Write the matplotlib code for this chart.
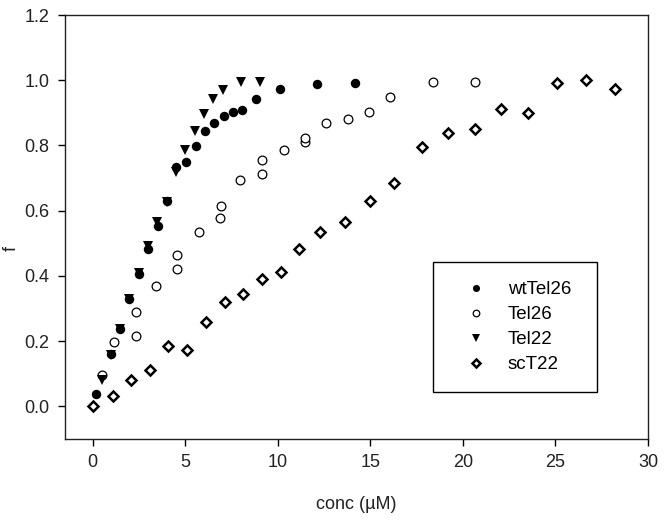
import matplotlib
matplotlib.use('Agg')
import matplotlib.pyplot as plt

plt.rcParams['font.family'] = ['Liberation Sans', 'DejaVu Sans']

# wtTel26 (filled circles)
wt_x = [0.2, 1.0, 1.48, 1.96, 2.5, 3.0, 3.53, 3.99, 4.51, 5.06, 5.56, 6.04, 6.54,
        7.09, 7.57, 8.07, 8.84, 10.1, 12.12, 14.15]
wt_y = [0.038, 0.16, 0.236, 0.33, 0.407, 0.482, 0.554, 0.631, 0.735, 0.749, 0.797,
        0.844, 0.869, 0.889, 0.903, 0.909, 0.942, 0.974, 0.99, 0.993]

# Tel26 (open circles)
tel26_x = [0.52, 1.16, 2.32, 2.32, 3.44, 4.57, 4.57, 5.74, 6.9, 6.94, 7.98, 9.15,
           9.15, 10.32, 11.49, 11.49, 12.6, 13.77, 14.94, 16.08, 18.37, 20.67]
tel26_y = [0.095, 0.198, 0.215, 0.29, 0.369, 0.42, 0.465, 0.536, 0.579, 0.615,
           0.695, 0.713, 0.754, 0.787, 0.81, 0.824, 0.87, 0.882, 0.903, 0.949,
           0.995, 0.995]

# Tel22 (filled triangles)
tel22_x = [0.52, 1.0, 1.48, 1.96, 2.5, 3.0, 3.49, 3.99, 4.48, 5.01, 5.52, 6.01,
           6.49, 7.04, 8.02, 9.02]
tel22_y = [0.08, 0.157, 0.236, 0.328, 0.41, 0.492, 0.564, 0.626, 0.718, 0.787,
           0.844, 0.897, 0.944, 0.969, 0.995, 0.995]

# scT22 (open diamonds)
sc_x = [0, 1.07, 2.05, 3.08, 4.08, 5.11, 6.13, 7.13, 8.13, 9.16, 10.18, 11.12,
        12.26, 13.65, 14.96, 16.25, 17.79, 19.2, 20.63, 22.06, 23.49, 25.08,
        26.64, 28.22]
sc_y = [0.0, 0.031, 0.082, 0.113, 0.185, 0.172, 0.26, 0.321, 0.346, 0.39, 0.413,
        0.482, 0.535, 0.564, 0.631, 0.684, 0.795, 0.838, 0.851, 0.911, 0.9,
        0.993, 1.002, 0.972]

x_ticks = [0, 5, 10, 15, 20, 25, 30]
y_ticks = [0.0, 0.2, 0.4, 0.6, 0.8, 1.0, 1.2]

fig = plt.figure(figsize=(6.64, 5.27), dpi=100)
ax = fig.add_axes([0.0979, 0.167, 0.878, 0.8045])

ax.plot(wt_x, wt_y, 'o', color='black', ms=6.8, mew=0, label='wtTel26')
ax.plot(tel26_x, tel26_y, 'o', mfc='white', mec='black', ms=6.3, mew=0.9,
        label='Tel26')
ax.plot(tel22_x, tel22_y, 'v', color='black', ms=7.8, mew=0, label='Tel22')
ax.plot(sc_x, sc_y, 'D', mfc='white', mec='black', ms=5.3, mew=1.8,
        label='scT22')

ax.set_xlim(-1.5, 30)
ax.set_ylim(-0.1, 1.2)
ax.set_xticks(x_ticks)
ax.set_yticks(y_ticks)
ax.set_yticklabels([f'{v:.1f}' for v in y_ticks])
ax.tick_params(direction='out', length=5, width=1, labelsize=13, pad=6,
               colors='black', labelcolor='#222222')
for s in ax.spines.values():
    s.set_linewidth(1)
    s.set_color('#222222')

ax.set_xlabel('conc (µM)', fontsize=13, color='#222222')
ax.set_ylabel('f', fontsize=13, color='#222222')
ax.xaxis.set_label_coords(0.5, -0.135)
ax.yaxis.set_label_coords(-0.078, 0.45)

leg = ax.legend(loc='lower left', bbox_to_anchor=(0.631, 0.111, 0.282, 0.316),
                mode='expand', fontsize=13.5, markerscale=0.75, frameon=True,
                fancybox=False, edgecolor='black', framealpha=1,
                borderpad=1.0, labelspacing=0.42, handletextpad=0.4,
                handlelength=2.6, borderaxespad=0)
leg.get_frame().set_linewidth(1)

fig.savefig('out.png', dpi=100)
